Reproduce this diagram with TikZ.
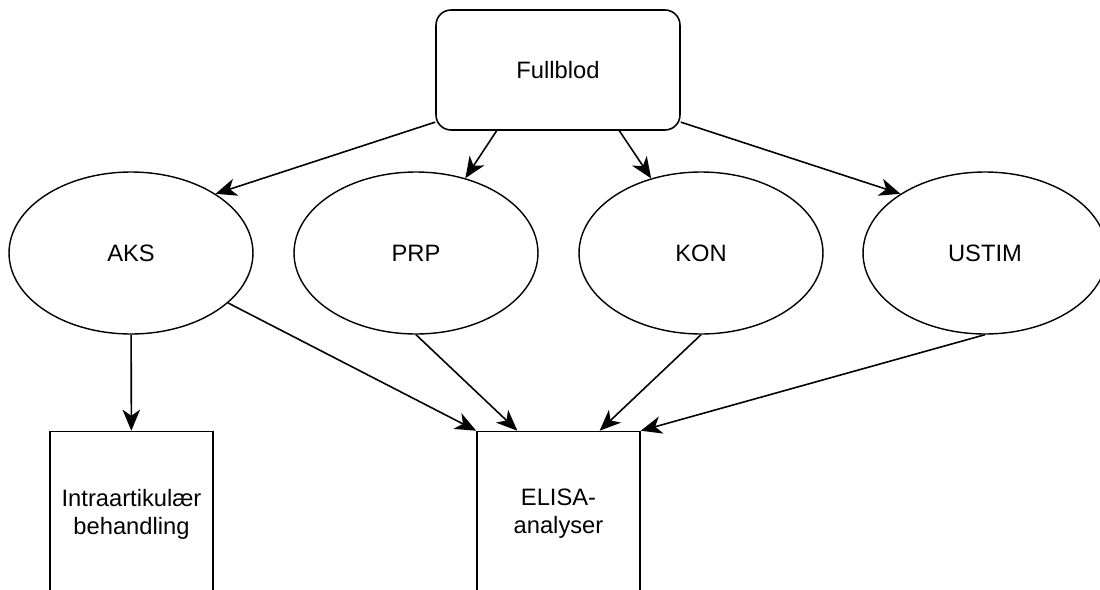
\documentclass[tikz,border=0pt]{standalone}
\usepackage{fontspec}
\setmainfont{Liberation Sans}
\usetikzlibrary{arrows.meta, shapes.geometric, calc}

\begin{document}
\begin{tikzpicture}[
    x=0.02cm, y=-0.02cm,
    font=\fontsize{13.5}{16}\selectfont,
    sourcenode/.style={rectangle, draw=black, rounded corners=3mm, line width=0.9pt, minimum width=4.88cm, minimum height=2.4cm, align=center},
    samplenode/.style={ellipse, draw=black, line width=0.8pt, minimum width=4.88cm, minimum height=3.24cm, inner sep=0pt, align=center},
    usenode/.style={rectangle, draw=black, line width=0.9pt, minimum width=3.26cm, minimum height=3.3cm, align=center},
    arrow/.style={-{Stealth[length=12pt, width=10pt, inset=3.5pt]}, line width=0.9pt, draw=black}
]
    \useasboundingbox (0,0) rectangle (1100,589);
    \clip (0,0) rectangle (1100,589);

    % Nodes
    \node[sourcenode] (full) at (558,70) {Fullblod};
    \node[samplenode] (aks) at (131,253) {AKS};
    \node[samplenode] (prp) at (416,253) {PRP};
    \node[samplenode] (kon) at (701,253) {KON};
    \node[samplenode] (ustim) at (985,253) {USTIM};
    \node[usenode] (intra) at (131.5,514) {Intraartikulær\\behandling};
    \node[usenode] (elisa) at (558.5,514) {ELISA-\\analyser};

    \coordinate (fq1) at ($(full.south west)!0.25!(full.south east)$);
    \coordinate (fq3) at ($(full.south west)!0.75!(full.south east)$);
    \coordinate (eq1) at ($(elisa.north west)!0.25!(elisa.north east)$);
    \coordinate (eq3) at ($(elisa.north west)!0.75!(elisa.north east)$);

    % Edges
    \draw[arrow] (full.203) -- (aks.35);
    \draw[arrow] (fq1) -- (prp);
    \draw[arrow] (fq3) -- (kon);
    \draw[arrow] (full.-23) -- (ustim.145);
    \draw[arrow] (aks) -- (intra);
    \draw[arrow] (aks) -- (elisa.north west);
    \draw[arrow] (prp.south) -- (eq1);
    \draw[arrow] (kon.south) -- (eq3);
    \draw[arrow] (ustim.south) -- (elisa.north east);
\end{tikzpicture}
\end{document}
